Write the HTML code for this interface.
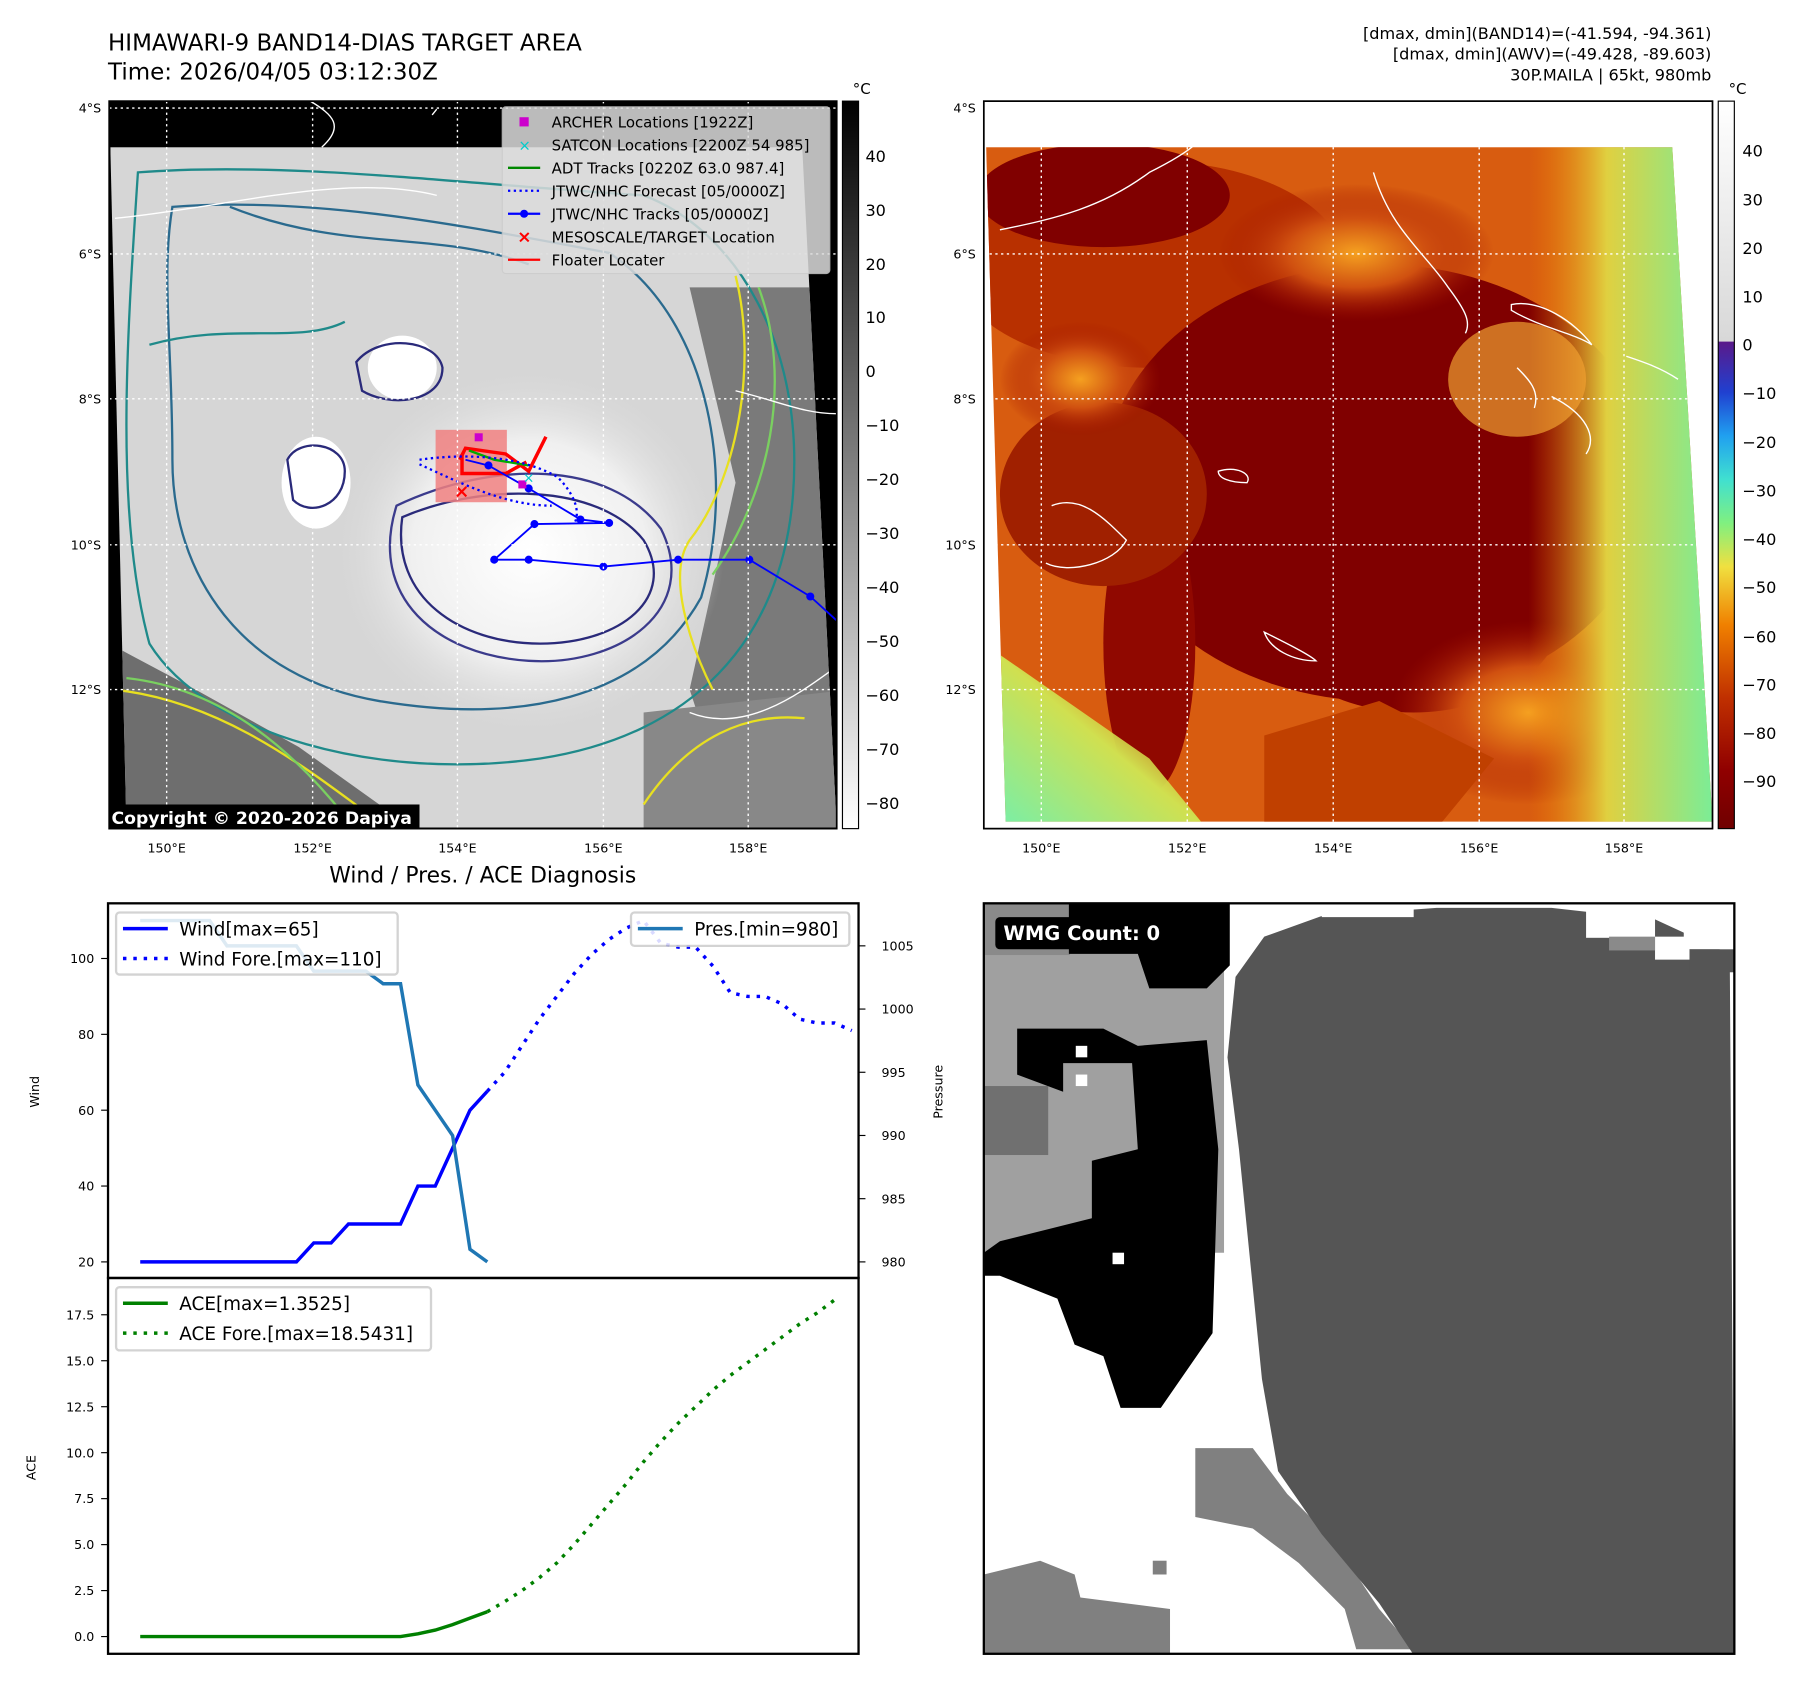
<!DOCTYPE html>
<html><head><meta charset="utf-8">
<style>
html,body{margin:0;padding:0;background:#fff;}
svg{display:block;font-family:"DejaVu Sans","Liberation Sans",sans-serif;}
</style></head>
<body>
<svg id="fig" width="1801" height="1690" viewBox="0 0 1567 1470.5" preserveAspectRatio="none" xmlns="http://www.w3.org/2000/svg">
<defs>
<linearGradient id="cb1" x1="0" y1="0" x2="0" y2="1">
<stop offset="0" stop-color="#000"/><stop offset="1" stop-color="#fff"/></linearGradient>
<linearGradient id="cb2" x1="0" y1="0" x2="0" y2="1">
<stop offset="0" stop-color="#ffffff"/><stop offset="0.33" stop-color="#d8d8d8"/>
<stop offset="0.331" stop-color="#5a1a8a"/><stop offset="0.40" stop-color="#2040d0"/>
<stop offset="0.46" stop-color="#20a0f0"/><stop offset="0.52" stop-color="#40e0d0"/>
<stop offset="0.58" stop-color="#80f080"/><stop offset="0.64" stop-color="#f0e040"/>
<stop offset="0.72" stop-color="#f08000"/><stop offset="0.82" stop-color="#c03000"/>
<stop offset="0.92" stop-color="#900000"/><stop offset="1" stop-color="#700000"/></linearGradient>
<radialGradient id="core1" cx="0.5" cy="0.5" r="0.5">
<stop offset="0" stop-color="#ffffff"/><stop offset="0.6" stop-color="#f0f0f0"/><stop offset="1" stop-color="#d8d8d8" stop-opacity="0"/></radialGradient>
<radialGradient id="warm2" cx="0.5" cy="0.5" r="0.5">
<stop offset="0" stop-color="#f5a020"/><stop offset="0.5" stop-color="#d05010"/><stop offset="1" stop-color="#a01000" stop-opacity="0"/></radialGradient>
<linearGradient id="green2" x1="0" y1="0" x2="1" y2="0">
<stop offset="0" stop-color="#f08000" stop-opacity="0"/><stop offset="0.4" stop-color="#e0d040"/><stop offset="1" stop-color="#70f0a0"/></linearGradient>
<linearGradient id="green3" x1="1" y1="0" x2="0" y2="1">
<stop offset="0" stop-color="#f08000" stop-opacity="0"/><stop offset="0.5" stop-color="#d0e050"/><stop offset="1" stop-color="#70f0b0"/></linearGradient>
</defs>

<text x="94" y="44" font-size="20">HIMAWARI-9 BAND14-DIAS TARGET AREA</text>
<text x="94" y="69" font-size="20">Time: 2026/04/05 03:12:30Z</text>
<g font-size="14" text-anchor="end">
<text x="1489" y="34">[dmax, dmin](BAND14)=(-41.594, -94.361)</text>
<text x="1489" y="52">[dmax, dmin](AWV)=(-49.428, -89.603)</text>
<text x="1489" y="70">30P.MAILA | 65kt, 980mb</text>
</g>

<!-- MAP 1 -->
<g>
<rect x="95" y="88" width="633" height="633" fill="#000"/>
<clipPath id="c1"><polygon points="96,128 698,128 728,720 110,720"/></clipPath>
<g clip-path="url(#c1)">
<rect x="95" y="128" width="640" height="600" fill="#d6d6d6"/>
<polygon points="95,560 170,600 260,650 330,700 330,721 95,721" fill="#6e6e6e"/>
<polygon points="600,250 740,250 740,721 640,721 600,600 640,420" fill="#7a7a7a"/>
<polygon points="560,620 740,600 740,721 560,721" fill="#888"/>
<ellipse cx="460" cy="480" rx="170" ry="160" fill="url(#core1)"/>
<ellipse cx="275" cy="420" rx="30" ry="40" fill="#fff"/>
<ellipse cx="350" cy="320" rx="30" ry="28" fill="#fff"/>
<g fill="none" stroke-width="2">
<path d="M120,150 C250,140 400,160 560,170 C640,200 700,300 690,430 C680,560 600,640 470,660 C330,680 180,640 130,560 C100,450 110,300 120,150Z" stroke="#1f8a8a"/>
<path d="M150,180 C280,170 420,200 530,220 C620,280 640,420 610,520 C560,610 450,630 330,610 C210,590 150,500 150,400 C150,300 140,240 150,180Z" stroke="#2a6a8e"/>
<path d="M350,450 C420,420 520,420 560,470 C590,520 540,560 470,560 C400,560 340,520 350,450Z" stroke="#2a2a7a"/>
<path d="M345,440 C430,400 530,400 575,460 C610,530 540,580 460,575 C380,570 320,520 345,440Z" stroke="#3b3b8c"/>
<path d="M250,400 C260,380 300,385 300,410 C300,440 270,450 255,435Z" stroke="#2a2a7a"/>
<path d="M310,315 C330,290 380,295 385,320 C385,350 340,355 315,340Z" stroke="#2a2a7a"/>
<path d="M98,600 C200,610 280,680 330,715" stroke="#e8e020"/>
<path d="M560,700 C600,640 650,620 700,625" stroke="#e8e020"/>
<path d="M640,240 C660,320 640,420 600,470 C580,500 600,560 620,600" stroke="#e8e020"/>
<path d="M660,250 C690,330 670,430 620,500" stroke="#7ad060"/>
<path d="M110,590 C200,600 260,660 300,710" stroke="#7ad060"/>
<path d="M200,180 C300,220 380,200 460,230" stroke="#2a6a8e"/>
<path d="M130,300 C200,280 260,300 300,280" stroke="#1f8a8a"/>
</g>
<g fill="none" stroke="#fff" stroke-width="1.2">
<path d="M100,190 C200,180 300,150 380,170"/>
<path d="M600,620 C650,640 700,600 728,580"/>
</g>
</g>
<path d="M270,88 C290,100 300,110 280,128 M380,95 L376,100 M640,340 C680,350 700,360 728,360" stroke="#fff" fill="none" stroke-width="1.2"/>
<rect x="379" y="374" width="62" height="63" fill="#f08080" opacity="0.85"/>
<polyline points="400,400 405,390 440,395 460,410 475,380" fill="none" stroke="#f00" stroke-width="3"/>
<polyline points="402,395 402,412 440,412 458,402" fill="none" stroke="#f00" stroke-width="3"/>
<polyline points="408,392 430,400 460,405" fill="none" stroke="#0a0" stroke-width="2"/>
<path d="M365,400 C400,395 450,395 485,415 C500,430 505,445 500,455 M365,404 C400,420 440,440 480,440" fill="none" stroke="#00f" stroke-width="2" stroke-dasharray="2,3"/>
<polyline points="405,400 425,405 460,425 505,452 530,455 465,456 430,487 460,487 525,493 590,487 652,487 705,519 728,540" fill="none" stroke="#00f" stroke-width="1.6"/>
<g fill="#00f"><circle cx="425" cy="405" r="3.5"/><circle cx="460" cy="425" r="3.5"/><circle cx="505" cy="452" r="3.5"/><circle cx="530" cy="455" r="3.5"/><circle cx="465" cy="456" r="3.5"/><circle cx="430" cy="487" r="3.5"/><circle cx="460" cy="487" r="3.5"/><circle cx="525" cy="493" r="3.5"/><circle cx="590" cy="487" r="3.5"/><circle cx="652" cy="487" r="3.5"/><circle cx="705" cy="519" r="3.5"/></g>
<rect x="413" y="377" width="7" height="7" fill="#c0c"/>
<rect x="451" y="418" width="7" height="7" fill="#c0c"/>
<text x="455" y="420" fill="#0cc" font-size="12">×</text>
<text x="395" y="433" fill="#f00" font-size="16" font-weight="bold">×</text>
<g stroke="#fff" stroke-width="1.2" stroke-dasharray="2,3">
<line x1="95" y1="94" x2="728" y2="94"/><line x1="95" y1="221" x2="728" y2="221"/><line x1="95" y1="347" x2="728" y2="347"/><line x1="95" y1="474" x2="728" y2="474"/><line x1="95" y1="600" x2="728" y2="600"/>
<line x1="145" y1="88" x2="145" y2="721"/><line x1="272" y1="88" x2="272" y2="721"/><line x1="398" y1="88" x2="398" y2="721"/><line x1="525" y1="88" x2="525" y2="721"/><line x1="651" y1="88" x2="651" y2="721"/>
</g>
<rect x="95" y="88" width="633" height="633" fill="none" stroke="#000" stroke-width="1.5"/>
<rect x="95" y="700" width="270" height="21" fill="#000"/>
<text x="97" y="717" fill="#fff" font-size="15" font-weight="bold">Copyright © 2020-2026 Dapiya</text>
</g>
<g font-size="13">
<rect x="437" y="93" width="285" height="145" fill="#dcdcdc" opacity="0.85" stroke="#ccc" rx="3"/>
<rect x="452" y="102" width="8" height="8" fill="#c0c"/><text x="480" y="111">ARCHER Locations [1922Z]</text>
<text x="451" y="131" fill="#0cc" font-size="13">×</text><text x="480" y="131">SATCON Locations [2200Z 54 985]</text>
<line x1="442" y1="146" x2="470" y2="146" stroke="#080" stroke-width="2"/><text x="480" y="151">ADT Tracks [0220Z 63.0 987.4]</text>
<line x1="442" y1="166" x2="470" y2="166" stroke="#00f" stroke-width="2" stroke-dasharray="2,3"/><text x="480" y="171">JTWC/NHC Forecast [05/0000Z]</text>
<line x1="442" y1="186" x2="470" y2="186" stroke="#00f" stroke-width="2"/><circle cx="456" cy="186" r="3.5" fill="#00f"/><text x="480" y="191">JTWC/NHC Tracks [05/0000Z]</text>
<text x="450" y="211" fill="#f00" font-size="15" font-weight="bold">×</text><text x="480" y="211">MESOSCALE/TARGET Location</text>
<line x1="442" y1="226" x2="470" y2="226" stroke="#f00" stroke-width="2"/><text x="480" y="231">Floater Locater</text>
</g>
<g font-size="11">
<g text-anchor="end"><text x="88" y="98">4°S</text><text x="88" y="225">6°S</text><text x="88" y="351">8°S</text><text x="88" y="478">10°S</text><text x="88" y="604">12°S</text></g>
<g text-anchor="middle"><text x="145" y="742">150°E</text><text x="272" y="742">152°E</text><text x="398" y="742">154°E</text><text x="525" y="742">156°E</text><text x="651" y="742">158°E</text></g>
</g>
<g font-size="14">
<rect x="733" y="88" width="14" height="633" fill="url(#cb1)" stroke="#000"/>
<text x="742" y="82" font-size="13">°C</text>
<g><text x="753" y="141">40</text><text x="753" y="188">30</text><text x="753" y="235">20</text><text x="753" y="281">10</text><text x="753" y="328">0</text><text x="753" y="375">−10</text><text x="753" y="422">−20</text><text x="753" y="469">−30</text><text x="753" y="516">−40</text><text x="753" y="563">−50</text><text x="753" y="610">−60</text><text x="753" y="657">−70</text><text x="753" y="704">−80</text></g>
</g>

<!-- MAP 2 -->
<g>
<rect x="856" y="88" width="634" height="633" fill="#fff"/>
<clipPath id="c2"><polygon points="858,128 1455,128 1490,715 875,715"/></clipPath>
<g clip-path="url(#c2)">
<rect x="856" y="128" width="640" height="600" fill="#d85c10"/>
<ellipse cx="1000" cy="230" rx="170" ry="90" fill="#b83000"/>
<ellipse cx="1200" cy="420" rx="240" ry="190" fill="#800000"/>
<ellipse cx="1230" cy="530" rx="130" ry="90" fill="#800000"/>
<ellipse cx="960" cy="170" rx="110" ry="45" fill="#800000"/>
<ellipse cx="1110" cy="330" rx="70" ry="55" fill="#800000"/>
<ellipse cx="1000" cy="560" rx="40" ry="130" fill="#900800"/>
<ellipse cx="960" cy="430" rx="90" ry="80" fill="#a02000"/>
<ellipse cx="1330" cy="620" rx="120" ry="80" fill="url(#warm2)"/>
<ellipse cx="1180" cy="220" rx="120" ry="60" fill="url(#warm2)"/>
<ellipse cx="940" cy="330" rx="70" ry="50" fill="url(#warm2)"/>
<rect x="1330" y="128" width="170" height="600" fill="url(#green2)"/>
<polygon points="856,560 1000,660 1050,721 856,721" fill="url(#green3)"/>
<polygon points="1100,640 1200,610 1300,660 1250,721 1100,721" fill="#c04000"/>
<ellipse cx="1320" cy="330" rx="60" ry="50" fill="#f0a030" opacity="0.7"/>
</g>
<g fill="none" stroke="#fff" stroke-width="1.2">
<path d="M870,200 C920,190 960,180 1000,150 C1040,130 1050,120 1055,100"/>
<path d="M1195,150 C1210,200 1240,220 1260,250 C1275,270 1280,280 1275,290"/>
<path d="M1315,265 C1340,260 1370,280 1385,300 C1370,290 1340,285 1315,270Z"/>
<path d="M1320,320 C1330,330 1340,340 1335,355"/>
<path d="M1350,345 C1380,360 1390,380 1380,395"/>
<path d="M915,440 C940,430 960,450 980,470 C970,490 930,500 910,490"/>
<path d="M1060,410 C1075,405 1090,412 1085,420 C1070,420 1060,416 1060,410Z"/>
<path d="M1100,550 C1120,560 1140,570 1145,575 C1125,575 1105,565 1100,550Z"/>
<path d="M1415,310 C1430,315 1445,320 1460,330"/>
</g>
<g stroke="#fff" stroke-width="1.2" stroke-dasharray="2,3">
<line x1="856" y1="94" x2="1490" y2="94"/><line x1="856" y1="221" x2="1490" y2="221"/><line x1="856" y1="347" x2="1490" y2="347"/><line x1="856" y1="474" x2="1490" y2="474"/><line x1="856" y1="600" x2="1490" y2="600"/>
<line x1="906" y1="88" x2="906" y2="721"/><line x1="1033" y1="88" x2="1033" y2="721"/><line x1="1160" y1="88" x2="1160" y2="721"/><line x1="1287" y1="88" x2="1287" y2="721"/><line x1="1413" y1="88" x2="1413" y2="721"/>
</g>
<rect x="856" y="88" width="634" height="633" fill="none" stroke="#000" stroke-width="1.5"/>
</g>
<g font-size="11">
<g text-anchor="end"><text x="849" y="98">4°S</text><text x="849" y="225">6°S</text><text x="849" y="351">8°S</text><text x="849" y="478">10°S</text><text x="849" y="604">12°S</text></g>
<g text-anchor="middle"><text x="906" y="742">150°E</text><text x="1033" y="742">152°E</text><text x="1160" y="742">154°E</text><text x="1287" y="742">156°E</text><text x="1413" y="742">158°E</text></g>
</g>
<g font-size="14">
<rect x="1495" y="88" width="14" height="633" fill="url(#cb2)" stroke="#000"/>
<text x="1504" y="82" font-size="13">°C</text>
<text x="1516" y="136">40</text><text x="1516" y="179">30</text><text x="1516" y="221">20</text><text x="1516" y="263">10</text><text x="1516" y="305">0</text><text x="1516" y="347">−10</text><text x="1516" y="390">−20</text><text x="1516" y="432">−30</text><text x="1516" y="474">−40</text><text x="1516" y="516">−50</text><text x="1516" y="559">−60</text><text x="1516" y="601">−70</text><text x="1516" y="643">−80</text><text x="1516" y="685">−90</text>
</g>

<text x="420" y="768" font-size="19" text-anchor="middle">Wind / Pres. / ACE Diagnosis</text>
<g id="diag"></g>

<!-- WMG panel -->
<g>
<clipPath id="c3"><rect x="856" y="786" width="653" height="653"/></clipPath>
<g clip-path="url(#c3)">
<rect x="856" y="786" width="653" height="653" fill="#fff"/>
<polygon points="856,786 1065,786 1065,1090 856,1090" fill="#a0a0a0"/>
<rect x="856" y="945" width="56" height="60" fill="#707070"/>
<rect x="856" y="786" width="75" height="45" fill="#8a8a8a"/>
<polygon points="930,786 1070,786 1070,840 1050,860 1000,860 990,830 930,830" fill="#000"/>
<polygon points="885,895 960,895 990,910 1050,905 1060,1000 1055,1160 1010,1225 975,1225 960,1180 935,1170 920,1130 870,1110 856,1110 856,1090 870,1080 950,1060 950,1010 990,1000 985,925 925,925 925,950 885,935" fill="#000"/>
<rect x="936" y="910" width="10" height="10" fill="#fff"/><rect x="936" y="935" width="10" height="10" fill="#fff"/><rect x="968" y="1090" width="10" height="10" fill="#fff"/>
<polygon points="1040,1260 1090,1260 1120,1300 1160,1340 1200,1400 1230,1435 1180,1435 1170,1400 1130,1360 1090,1330 1040,1320" fill="#808080"/>
<polygon points="856,1370 905,1358 935,1370 940,1390 1018,1400 1018,1440 856,1440" fill="#808080"/>
<rect x="1003" y="1358" width="12" height="12" fill="#808080"/>
<polygon points="1075,850 1100,815 1150,797 1250,790 1350,790 1440,800 1505,830 1509,1440 1230,1440 1200,1395 1150,1335 1112,1280 1098,1200 1088,1100 1078,1000 1068,920" fill="#555"/>
<rect x="1150" y="786" width="80" height="12" fill="#fff"/><rect x="1380" y="786" width="60" height="30" fill="#fff"/><rect x="1440" y="815" width="30" height="20" fill="#fff"/>
<rect x="1465" y="786" width="44" height="40" fill="#fff"/><rect x="1470" y="826" width="39" height="20" fill="#555"/>
<rect x="1400" y="815" width="40" height="12" fill="#8a8a8a"/>
</g>
<rect x="856" y="786" width="653" height="653" fill="none" stroke="#000" stroke-width="2"/>
<rect x="866" y="798" width="160" height="28" rx="4" fill="#000"/>
<text x="873" y="818" fill="#fff" font-size="17" font-weight="bold">WMG Count: 0</text>
</g>
</svg>
<script>
const windObs = [20,20,20,20,20,20,20,20,20,20,25,25,30,30,30,30,40,40,50,60,65];
const windFore = [65,70,77,84,90,96,101,105,108,110,104,103,103,98,91,90,90,88,84,83,83,81];
const presObs = [1007,1007,1007,1007,1007,1005,1005,1005,1005,1005,1003,1003,1003,1003,1002,1002,994,992,990,981,980];
const aceObs = [0,0,0,0,0,0,0,0,0,0,0,0,0,0,0,0,0.15,0.35,0.65,1.0,1.35];
const aceFore = [1.35,1.9,2.5,3.2,4.0,5.0,6.1,7.2,8.3,9.5,10.6,11.6,12.5,13.4,14.2,14.9,15.6,16.3,17.0,17.6,18.3];
const windTicks = [20,40,60,80,100];
const presTicks = [980,985,990,995,1000,1005];
const aceTicks = [0,2.5,5,7.5,10,12.5,15,17.5];

const NS='http://www.w3.org/2000/svg';
const g=document.getElementById('diag');
function mk(tag,attrs,parent){const e=document.createElementNS(NS,tag);for(const k in attrs)e.setAttribute(k,attrs[k]);(parent||g).appendChild(e);return e;}
const L=94,R=747,T1=786,B1=1112,T2=1112,B2=1439;
const xS=i=>122+i*15.1;
const yW=v=>1098-(v-20)*3.3;
const yP=v=>1098-(v-980)*11;
const yA=v=>1424-v*16;
function pts(arr,off,fy){return arr.map((v,i)=>xS(i+off).toFixed(1)+','+fy(v).toFixed(1)).join(' ');}

let e;
e=mk('polyline',{points:pts(windObs,0,yW),fill:'none',stroke:'#0000ff','stroke-width':3});


e=mk('polyline',{points:pts(windFore,20,yW),fill:'none',stroke:'#0000ff','stroke-width':3,'stroke-dasharray':'3,6'});


e=mk('polyline',{points:pts(presObs,0,yP),fill:'none',stroke:'#1f77b4','stroke-width':3});


e=mk('polyline',{points:pts(aceObs,0,yA),fill:'none',stroke:'#008000','stroke-width':3});


e=mk('polyline',{points:pts(aceFore,20,yA),fill:'none',stroke:'#008000','stroke-width':3,'stroke-dasharray':'3,6'});



mk('rect',{x:L,y:T1,width:R-L,height:B1-T1,fill:'none',stroke:'#000','stroke-width':2});
mk('rect',{x:L,y:T2,width:R-L,height:B2-T2,fill:'none',stroke:'#000','stroke-width':2});

windTicks.forEach(v=>{const y=yW(v);mk('line',{x1:L-6,y1:y,x2:L,y2:y,stroke:'#000'});
 const t=mk('text',{x:L-12,y:y+4,'font-size':11,'text-anchor':'end'});t.textContent=v;
 
 });
presTicks.forEach(v=>{const y=yP(v);mk('line',{x1:R,y1:y,x2:R+6,y2:y,stroke:'#000'});
 const t=mk('text',{x:R+20,y:y+4,'font-size':11});t.textContent=v;
 
 });
aceTicks.forEach(v=>{const y=yA(v);mk('line',{x1:L-6,y1:y,x2:L,y2:y,stroke:'#000'});
 const t=mk('text',{x:L-12,y:y+4,'font-size':11,'text-anchor':'end'});t.textContent=v.toFixed(1);
 
 });

function lab(txt,x,y,name){const t=mk('text',{x:x,y:y,'font-size':11,'text-anchor':'middle',transform:'rotate(-90 '+x+' '+y+')'});t.textContent=txt;
 
 }
lab('Wind',34,950,'wind-axis-title');
lab('Pressure',820,950,'pressure-axis-title');
lab('ACE',31,1277,'ace-axis-title');

function legend(x,y,w,h,items,name){const lg=mk('g',{});
 
 
 mk('rect',{x:x,y:y,width:w,height:h,fill:'#fff',opacity:0.85,stroke:'#ccc','stroke-width':2,rx:3},lg);
 items.forEach((it,i)=>{const yy=y+14+i*26;
  mk('line',{x1:x+6,y1:yy,x2:x+45,y2:yy,stroke:it.c,'stroke-width':3,'stroke-dasharray':it.d?'3,6':'none'},lg);
  const t=mk('text',{x:x+55,y:yy+6,'font-size':16},lg);t.textContent=it.t;});}
legend(101,794,245,54,[{t:'Wind[max=65]',c:'#00f'},{t:'Wind Fore.[max=110]',c:'#00f',d:1}],'wind-legend');
legend(549,794,190,29,[{t:'Pres.[min=980]',c:'#1f77b4'}],'pressure-legend');
legend(101,1120,274,55,[{t:'ACE[max=1.3525]',c:'#008000'},{t:'ACE Fore.[max=18.5431]',c:'#008000',d:1}],'ace-legend');
</script>
</body></html>
